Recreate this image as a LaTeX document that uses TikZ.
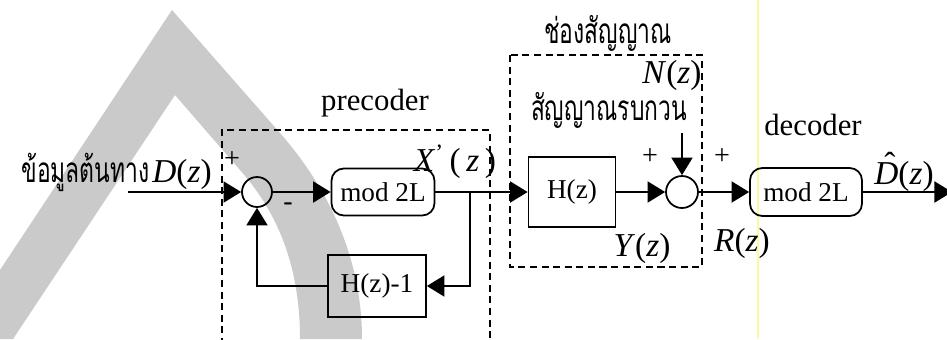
\documentclass[tikz,border=0pt]{standalone}
\usepackage{fontspec}
\setmainfont{Liberation Serif}
\newfontfamily\thai[Script=Thai,FakeStretch=0.65]{Loma}
\usetikzlibrary{arrows.meta}
\definecolor{wmgray}{RGB}{202,202,202}
\definecolor{marker}{RGB}{250,250,160}
\begin{document}
\begin{tikzpicture}[x=0.02cm,y=-0.02cm,
  wire/.style={line width=1pt},
  flow/.style={wire,-{Triangle[length=10pt,width=12pt]}},
  frame/.style={line width=0.9pt,dash pattern=on 4pt off 2.6pt},
  blockbox/.style={draw,line width=1pt,inner sep=0pt,font=\fontsize{15.5}{17}\selectfont},
  modbox/.style={blockbox,rounded corners=7pt},
  sumnode/.style={draw,circle,line width=1pt,inner sep=0pt},
  lbl/.style={inner sep=0pt,font=\fontsize{17.5}{20}\selectfont},
  sig/.style={inner sep=0pt,font=\fontsize{19}{22}\selectfont},
  sgn/.style={inner sep=0pt,font=\fontsize{16}{18}\selectfont},
  thl/.style={inner sep=0pt,font=\thai\fontsize{20}{23}\selectfont}]
\useasboundingbox (0,0) rectangle (947,339);
\fill[white] (0,0) rectangle (947,339);
% background logo band
\fill[wmgray] (0,270) -- (172,10) -- (280,133)
  .. controls (330,190) and (362,260) .. (362,339) -- (300,339)
  .. controls (300,270) and (280,215) .. (240,170) -- (175,95)
  -- (13,339) -- (0,339) -- cycle;
% highlighter stroke
\draw[marker,line width=1.2pt] (758,0) -- (758,339);

% dashed frames
\draw[frame] (222,345) -- (222,130) -- (490,130) -- (490,345);
\draw[frame] (510,55) rectangle (702,267);

% blocks
\node[sumnode,minimum size=0.6cm] (sum1) at (257,192) {};
\node[modbox,minimum width=2.06cm,minimum height=0.94cm] (mod1) at (383,192) {mod 2L};
\node[blockbox,minimum width=1.96cm,minimum height=1.24cm] (hm1) at (377,286) {H(z)-1};
\node[blockbox,minimum width=1.74cm,minimum height=1.4cm] (H) at (572,192) {H(z)};
\node[sumnode,minimum size=0.64cm] (sum2) at (682,192) {};
\node[modbox,minimum width=2.24cm,minimum height=0.96cm] (mod2) at (806,192) {mod 2L};

\coordinate (in) at (128,192);
\coordinate (br) at (470,192);
\coordinate (noise) at (682,133);
\coordinate (out) at (952,192);

% connectors
\draw[flow] (in) -- (sum1.west);
\draw[flow] (sum1.east) -- (mod1.west);
\draw[flow] (mod1.east) -- (H.west);
\draw[flow] (br) |- (hm1.east);
\draw[flow] (hm1.west) -| (sum1.south);
\draw[flow] (H.east) -- (sum2.west);
\draw[flow] (noise) -- (sum2.north);
\draw[flow] (sum2.east) -- (mod2.west);
\draw[flow] (mod2.east) -- (out);

% labels
\node[anchor=east,inner sep=0pt] (src) at (212,172)
  {{\thai\fontsize{20}{23}\selectfont ข้อมูลต้นทาง}\,{\fontsize{19}{22}\selectfont\textit{D}(\textit{z})}};
\node[sgn] (p1) at (232,160) {+};
\node[sgn] (m1) at (288,207) {-};
\node[lbl] (pre) at (375,103) {precoder};
\node[sig] (xp) at (455,162) {\textit{X}\textsuperscript{'}\,(\,\textit{z}\,)};
\node[thl] (chan) at (608,33) {ช่องสัญญาณ};
\node[sig] (nz) at (672,75) {\textit{N}(\textit{z})};
\node[thl] (noisetxt) at (609,110) {สัญญาณรบกวน};
\node[sgn] (p2) at (650,157) {+};
\node[sgn] (p3) at (722,157) {+};
\node[sig] (yz) at (642,248) {\textit{Y}(\textit{z})};
\node[sig] (rz) at (742,243) {\textit{R}(\textit{z})};
\node[lbl] (dec) at (813,125) {decoder};
\node[sig] (dh) at (904,172)
  {\rlap{\kern0.3em\raisebox{0.28em}{ˆ}}\textit{D}(\textit{z})};
\end{tikzpicture}
\end{document}
